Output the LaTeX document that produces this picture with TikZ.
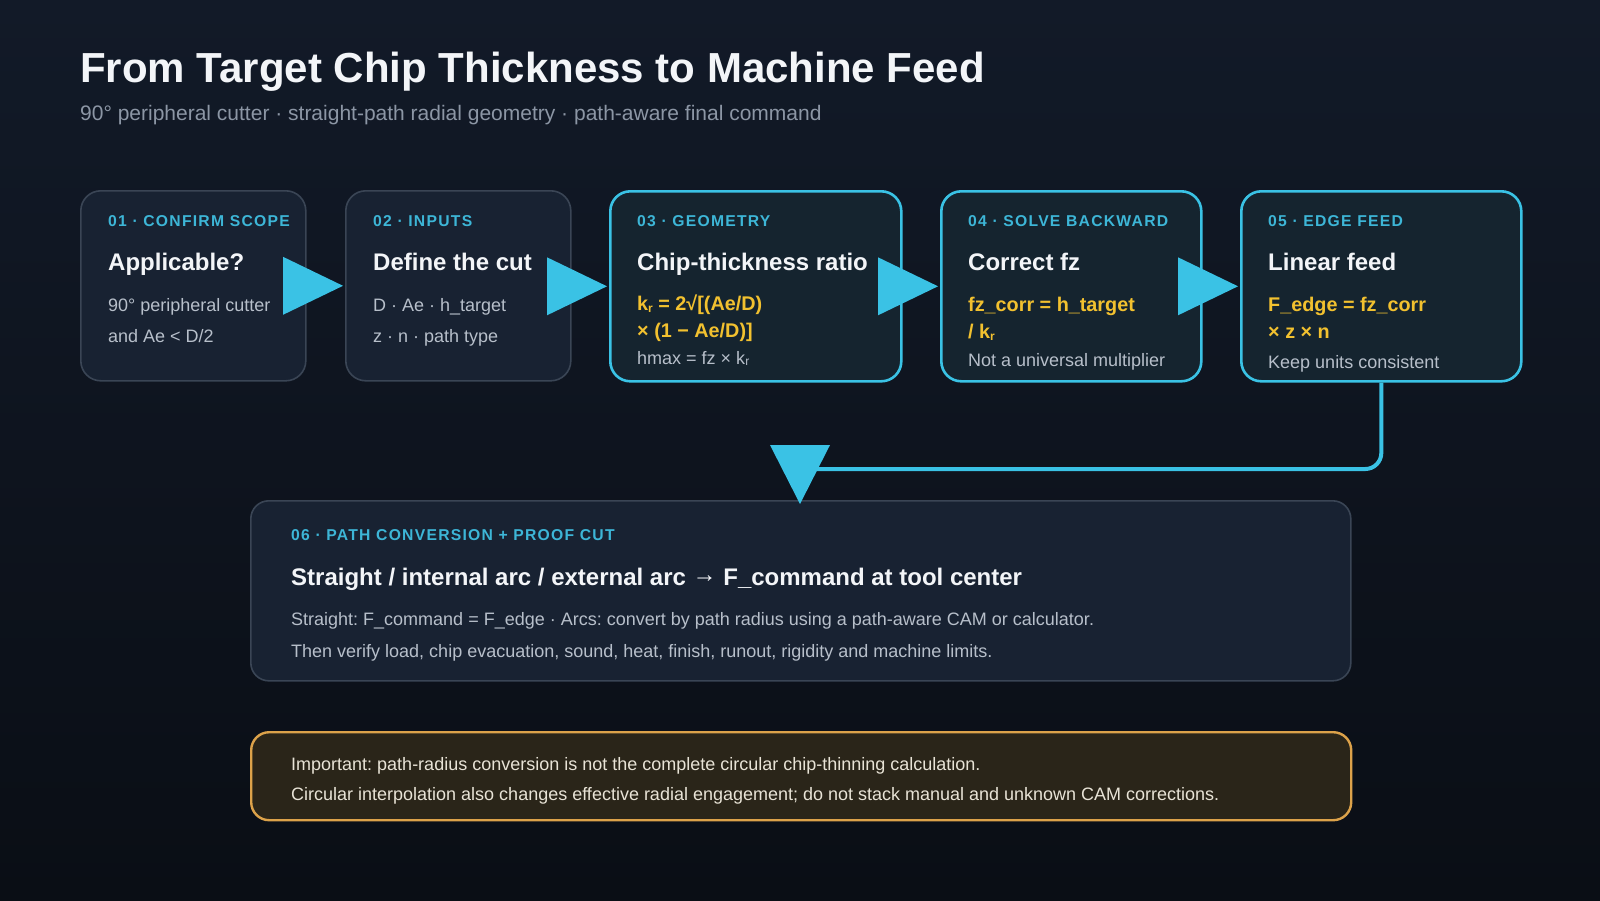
\documentclass[tikz,border=0pt]{standalone}
\usepackage{fontspec}
\usepackage{graphicx}
\setmainfont{Liberation Sans}
\newfontfamily\lblfont[LetterSpace=8]{Liberation Sans}
\usetikzlibrary{calc}
\frenchspacing
\definecolor{bgA}{HTML}{121A28}
\definecolor{bgB}{HTML}{0A0E15}
\definecolor{boxfill}{HTML}{182232}
\definecolor{boxline}{HTML}{3A4555}
\definecolor{hlfill}{HTML}{15242F}
\definecolor{cyanc}{HTML}{3AC2E5}
\definecolor{lblc}{HTML}{3DB6D7}
\definecolor{headc}{HTML}{F3F5F8}
\definecolor{bodyc}{HTML}{B7BFCA}
\definecolor{yelc}{HTML}{F2C12F}
\definecolor{warnfill}{HTML}{2A2519}
\definecolor{warnline}{HTML}{DCA24A}
\definecolor{warntext}{HTML}{E8E3D6}
\definecolor{subc}{HTML}{8C96A5}
\newcommand{\krsub}{\raisebox{-0.2ex}{\fontsize{12}{12}\selectfont r}}
\newcommand{\rarr}{\raisebox{0.12em}{→}}
\tikzset{
  card/.style={draw=boxline, line width=1.6pt, fill=boxfill, rounded corners=20pt, inner sep=0pt, anchor=north west},
  hcard/.style={card, draw=cyanc, fill=hlfill, line width=2.6pt},
  warncard/.style={card, draw=warnline, fill=warnfill, line width=2.4pt, rounded corners=18pt},
  lbl/.style={anchor=base west, text=lblc, font=\lblfont\bfseries\fontsize{15.7}{16}\selectfont, inner sep=0pt},
  head/.style={anchor=base west, text=headc, font=\bfseries\fontsize{24}{24}\selectfont, inner sep=0pt},
  body/.style={anchor=base west, text=bodyc, font=\fontsize{18}{18}\selectfont, inner sep=0pt},
  form/.style={anchor=base west, text=yelc, font=\bfseries\fontsize{19.8}{20}\selectfont, inner sep=0pt},
  warnt/.style={anchor=base west, text=warntext, font=\fontsize{18}{18}\selectfont, inner sep=0pt},
  tri/.style={fill=cyanc},
  conn/.style={draw=cyanc, line width=4pt, rounded corners=16pt}
}
\begin{document}
\begin{tikzpicture}[x=1pt, y=-1pt]
\useasboundingbox (0,0) rectangle (1600,900);
\shade[top color=bgA, bottom color=bgB] (0,0) rectangle (1600,900);

% title
\node[anchor=base west, inner sep=0pt, text=headc, font=\bfseries\fontsize{42}{42}\selectfont] (title) at (80,82) {From Target Chip Thickness to Machine Feed};
\node[anchor=base west, inner sep=0pt, text=subc, font=\fontsize{21}{21}\selectfont] (sub) at (80,120) {90° peripheral cutter · straight-path radial geometry · path-aware final command};

% cards
\node[card,  minimum width=225pt, minimum height=190pt] (b1) at (80,190) {};
\node[card,  minimum width=225pt, minimum height=190pt] (b2) at (345,190) {};
\node[hcard, minimum width=291pt, minimum height=190pt] (b3) at (609,190) {};
\node[hcard, minimum width=260pt, minimum height=190pt] (b4) at (940,190) {};
\node[hcard, minimum width=280pt, minimum height=190pt] (b5) at (1240,190) {};
\node[card,  minimum width=1100pt, minimum height=180pt, rounded corners=18pt] (b6) at (250,500) {};
\node[warncard, minimum width=1100pt, minimum height=88pt] (b7) at (250,731) {};

% card 1
\node[lbl]  (l1) at ($(b1.north west)+(28,36)$) {01 · CONFIRM SCOPE};
\node[head] (h1) at ($(b1.north west)+(28,80)$) {Applicable?};
\node[body] (t1a) at ($(b1.north west)+(28,121)$) {90° peripheral cutter};
\node[body] (t1b) at ($(b1.north west)+(28,152)$) {and Ae < D/2};
% card 2
\node[lbl]  (l2) at ($(b2.north west)+(28,36)$) {02 · INPUTS};
\node[head] (h2) at ($(b2.north west)+(28,80)$) {Define the cut};
\node[body] (t2a) at ($(b2.north west)+(28,121)$) {D · Ae · h\_target};
\node[body] (t2b) at ($(b2.north west)+(28,152)$) {z · n · path type};
% card 3
\node[lbl]  (l3) at ($(b3.north west)+(28,36)$) {03 · GEOMETRY};
\node[head] (h3) at ($(b3.north west)+(28,80)$) {Chip-thickness ratio};
\node[form] (f3a) at ($(b3.north west)+(28,120)$) {k\krsub{} = 2√[(Ae/D)};
\node[form] (f3b) at ($(b3.north west)+(28,147)$) {× (1 − Ae/D)]};
\node[body] (t3) at ($(b3.north west)+(28,174)$) {hmax = fz × k\krsub};
% card 4
\node[lbl]  (l4) at ($(b4.north west)+(28,36)$) {04 · SOLVE BACKWARD};
\node[head] (h4) at ($(b4.north west)+(28,80)$) {Correct fz};
\node[form] (f4a) at ($(b4.north west)+(28,121)$) {fz\_corr = h\_target};
\node[form] (f4b) at ($(b4.north west)+(28,148)$) {/ k\krsub};
\node[body] (t4) at ($(b4.north west)+(28,176)$) {Not a universal multiplier};
% card 5
\node[lbl]  (l5) at ($(b5.north west)+(28,36)$) {05 · EDGE FEED};
\node[head] (h5) at ($(b5.north west)+(28,80)$) {Linear feed};
\node[form] (f5a) at ($(b5.north west)+(28,121)$) {F\_edge = fz\_corr};
\node[form] (f5b) at ($(b5.north west)+(28,148)$) {× z × n};
\node[body] (t5) at ($(b5.north west)+(28,178)$) {Keep units consistent};
% card 6
\node[lbl]  (l6) at ($(b6.north west)+(41,40)$) {06 · PATH CONVERSION + PROOF CUT};
\node[head] (h6) at ($(b6.north west)+(41,85)$) {Straight / internal arc / external arc \rarr{} F\_command at tool center};
\node[body] (t6a) at ($(b6.north west)+(41,125)$) {Straight: F\_command = F\_edge · Arcs: convert by path radius using a path-aware CAM or calculator.};
\node[body] (t6b) at ($(b6.north west)+(41,157)$) {Then verify load, chip evacuation, sound, heat, finish, runout, rigidity and machine limits.};
% card 7
\node[warnt] (w1) at ($(b7.north west)+(41,39)$) {Important: path-radius conversion is not the complete circular chip-thinning calculation.};
\node[warnt] (w2) at ($(b7.north west)+(41,69)$) {Circular interpolation also changes effective radial engagement; do not stack manual and unknown CAM corrections.};

% arrows between cards
\foreach \n in {b2,b3,b4,b5}{
  \fill[tri] ($(\n.west)+(-2,0)$) -- ($(\n.west)+(-62,-29)$) -- ($(\n.west)+(-62,29)$) -- cycle;
}
% connector to card 6
\coordinate (dtip) at ($(b6.north west)+(550,4)$);
\draw[conn] (b5.south) |- ($(dtip)+(0,-35)$);
\fill[tri] (dtip) -- ($(dtip)+(-30,-59)$) -- ($(dtip)+(30,-59)$) -- cycle;
\end{tikzpicture}
\end{document}
